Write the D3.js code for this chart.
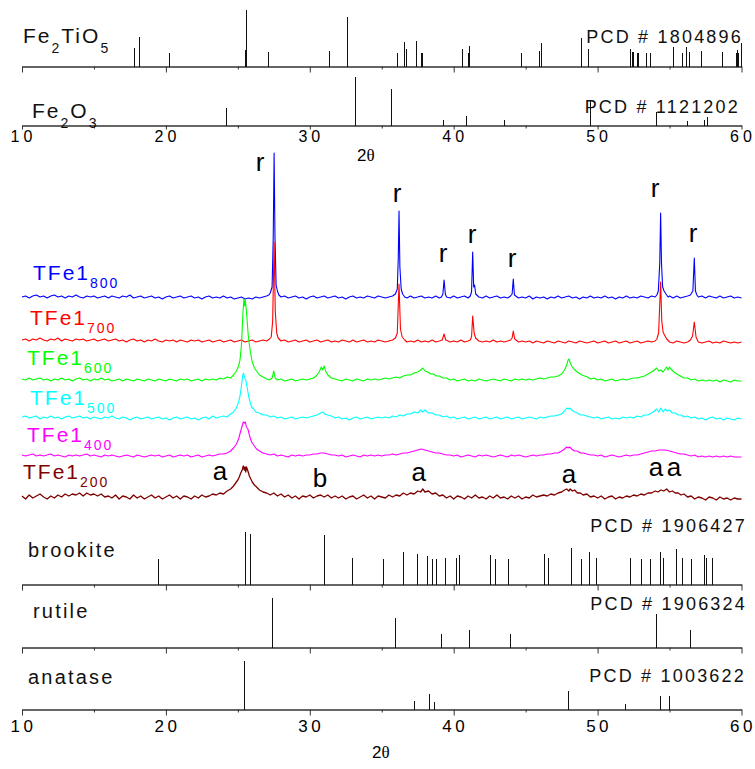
<!DOCTYPE html>
<html>
<head>
<meta charset="utf-8">
<script src="https://cdn.jsdelivr.net/npm/d3@7"></script>
<style>
body { margin: 0; background: #fff; }
text { font-family: "Liberation Sans", Arial, sans-serif; }
</style>
</head>
<body>
<svg id="chart" width="755" height="769"></svg>
<script>
// Reference patterns: [2theta, relative intensity %]
var fe2tio5 = [[17.78,33],[18.11,52],[20.21,24],[25.50,29],[25.57,100],[27.12,26],[31.33,28],[32.56,88],
  [36.04,24],[36.57,44],[36.71,31],[37.38,45],[37.73,24],[37.82,24],[40.60,31],[40.97,24],[41.09,37],
  [44.68,24],[45.93,28],[46.05,42],[48.83,51],[49.32,31],[52.25,31],[52.37,26],[52.48,26],[52.76,24],
  [52.83,24],[53.36,24],[53.64,24],[55.22,35],[55.89,24],[56.12,35],[56.35,26],[57.16,28],[58.62,26],
  [59.60,24],[59.71,29],[59.78,24],[59.94,42]];

var fe2o3 = [[24.18,36],[33.14,100],[35.62,75],[39.28,12],[40.86,19],[43.52,12],[49.47,52],[54.09,28],
  [56.18,10],[57.40,12],[57.58,17]];

var brookite = [[19.47,49],[25.50,100],[25.82,96],[30.97,95],[32.96,50],[35.09,48],[36.45,62],[37.45,58],
  [38.12,55],[38.51,49],[38.75,49],[39.37,51],[40.14,51],[40.35,57],[42.50,57],[42.89,48],[43.80,48],
  [46.28,59],[46.55,50],[48.17,70],[48.83,48],[49.38,61],[49.89,50],[52.23,51],[52.99,48],[53.66,48],
  [54.36,61],[54.57,50],[55.43,67],[55.89,51],[56.47,48],[57.40,57],[57.51,50],[57.93,50]];

var rutile = [[27.37,100],[35.92,59],[39.10,28],[41.04,36],[43.89,28],[54.06,68],[56.42,36]];

var anatase = [[25.40,100],[37.22,17],[38.26,32],[38.65,16],[47.97,39],[51.93,11],[54.34,27],[54.94,27]];

// Measured patterns: [2theta, intensity above own baseline]
var tfe800 = [[10,0],[10.25,1],[10.5,-1],[10.75,1],[11,2],[11.25,0],[11.5,1],[11.75,-1],[12,1],[12.25,2],
  [12.5,0],[12.75,1],[13,-1],[13.25,1],[13.5,0],[13.75,2],[14,0],[14.25,-1],[14.5,1],[14.75,0],[15,1],
  [15.25,-1],[15.5,0],[15.75,1],[16,-1],[16.25,1],[16.5,0],[16.75,-1],[17,1],[17.25,0],[17.5,2],[17.75,-1],
  [18,0],[18.25,1],[18.5,-1],[18.75,0],[19,1],[19.25,-1],[19.5,0],[19.75,-2],[20,0],[20.25,1],[20.5,-1],
  [20.75,0],[21,1],[21.25,-1],[21.5,0],[21.75,1],[22,-1],[22.25,0],[22.5,-2],[22.75,0],[23,1],[23.25,-1],
  [23.5,0],[23.75,-1],[24,1],[24.25,-1],[24.5,0],[24.75,-2],[25,-1],[25.25,0],[25.5,-2],[25.75,-1],[26,-2],
  [26.25,0],[26.5,-1],[26.75,0],[27,1],[27.15,2],[27.25,4],[27.38,10],[27.46,60],[27.52,144],[27.58,60],
  [27.66,12],[27.75,6],[27.85,2],[28,0],[28.25,1],[28.5,-1],[28.75,0],[29,1],[29.25,-1],[29.5,0],[29.75,-2],
  [30,0],[30.25,1],[30.5,-1],[30.75,0],[31,1],[31.25,-1],[31.5,0],[31.75,1],[32,-1],[32.25,0],[32.5,-2],
  [32.75,0],[33,1],[33.25,-1],[33.5,0],[33.75,-1],[34,1],[34.25,0],[34.5,-1],[34.75,1],[35,0],[35.25,-1],
  [35.5,0],[35.75,1],[35.95,3],[36.08,8],[36.15,40],[36.2,86],[36.26,30],[36.35,8],[36.45,3],[36.6,0],
  [36.75,-1],[37,1],[37.25,-1],[37.5,0],[37.75,1],[38,-1],[38.25,0],[38.5,-1],[38.75,1],[39,-1],[39.15,0],
  [39.25,3],[39.33,17],[39.42,3],[39.5,0],[39.75,-1],[40,1],[40.25,-1],[40.5,0],[40.75,1],[41,-1],
  [41.15,1],[41.24,5],[41.32,45],[41.39,10],[41.45,12],[41.53,3],[41.75,0],[42,-1],[42.25,1],[42.5,-1],
  [42.75,0],[43,1],[43.25,-1],[43.5,0],[43.75,-1],[43.95,1],[44.06,3],[44.14,18],[44.22,2],[44.5,-1],
  [44.75,0],[45,-1],[45.25,1],[45.5,-2],[45.75,0],[46,-1],[46.25,0],[46.5,-2],[46.75,0],[47,-1],[47.25,1],
  [47.5,-1],[47.75,0],[48,1],[48.25,-1],[48.5,0],[48.75,-2],[49,0],[49.25,-1],[49.5,1],[49.75,-1],[50,0],
  [50.25,-1],[50.5,1],[50.75,-1],[51,0],[51.25,-2],[51.5,0],[51.75,-1],[52,1],[52.25,-1],[52.5,0],
  [52.75,-1],[53,1],[53.25,0],[53.5,-1],[53.75,1],[54,0],[54.12,2],[54.22,6],[54.32,34],[54.38,84],
  [54.44,34],[54.52,10],[54.62,6],[54.75,3],[54.9,0],[55,1],[55.25,-1],[55.5,1],[55.75,-1],[56,0],
  [56.25,1],[56.45,2],[56.62,6],[56.72,39],[56.8,6],[56.9,2],[57,0],[57.25,1],[57.5,-1],[57.75,1],[58,0],
  [58.25,-1],[58.5,1],[58.75,-1],[59,0],[59.25,1],[59.5,-1],[59.75,0],[60,-1]];

var tfe700 = [[10,1],[10.25,2],[10.5,0],[10.75,2],[11,1],[11.25,3],[11.5,1],[11.75,0],[12,2],[12.25,1],
  [12.5,3],[12.75,0],[13,2],[13.25,1],[13.5,0],[13.75,2],[14,1],[14.25,2],[14.5,0],[14.75,1],[15,2],
  [15.25,0],[15.5,1],[15.75,2],[16,0],[16.25,1],[16.5,2],[16.75,0],[17,1],[17.25,-1],[17.5,1],[17.75,2],
  [18,0],[18.25,1],[18.5,-1],[18.75,1],[19,0],[19.25,2],[19.5,0],[19.75,-1],[20,1],[20.25,0],[20.5,1],
  [20.75,-1],[21,1],[21.25,0],[21.5,-1],[21.75,1],[22,0],[22.25,1],[22.5,-1],[22.75,0],[23,1],[23.25,-1],
  [23.5,0],[23.75,1],[24,-1],[24.25,0],[24.5,1],[24.75,-1],[25,0],[25.25,1],[25.5,-1],[25.75,0],[26,1],
  [26.25,-1],[26.5,0],[26.75,1],[27,0],[27.2,2],[27.32,4],[27.42,20],[27.52,99],[27.6,30],[27.7,8],
  [27.8,3],[28,0],[28.25,1],[28.5,-1],[28.75,0],[29,1],[29.25,-1],[29.5,0],[29.75,1],[30,-1],[30.25,0],
  [30.5,1],[30.75,-1],[31,0],[31.25,1],[31.5,-1],[31.75,0],[32,-1],[32.25,1],[32.5,0],[32.75,-1],[33,1],
  [33.25,-1],[33.5,0],[33.75,1],[34,-1],[34.25,0],[34.5,-1],[34.75,1],[35,0],[35.25,-1],[35.5,0],
  [35.75,1],[35.95,3],[36.08,8],[36.2,57],[36.3,12],[36.42,4],[36.6,1],[36.75,-1],[37,0],[37.25,-1],
  [37.5,1],[37.75,-1],[38,0],[38.25,-1],[38.5,1],[38.75,-1],[39,0],[39.2,1],[39.33,7],[39.45,1],
  [39.75,-1],[40,0],[40.25,-1],[40.5,1],[40.75,-1],[41,0],[41.15,1],[41.24,4],[41.32,25],[41.42,8],
  [41.52,3],[41.75,0],[42,-1],[42.25,0],[42.5,-1],[42.75,1],[43,-1],[43.25,0],[43.5,-1],[43.75,0],
  [43.95,1],[44.06,3],[44.14,10],[44.24,2],[44.5,-1],[44.75,0],[45,-1],[45.25,0],[45.5,-2],[45.75,0],
  [46,-1],[46.25,-2],[46.5,0],[46.75,-1],[47,-2],[47.25,0],[47.5,-1],[47.75,-2],[48,0],[48.25,-1],
  [48.5,-2],[48.75,0],[49,-1],[49.25,-2],[49.5,-1],[49.75,0],[50,-2],[50.25,-1],[50.5,0],[50.75,-2],
  [51,-1],[51.25,0],[51.5,-2],[51.75,-1],[52,0],[52.25,-2],[52.5,-1],[52.75,0],[53,-2],[53.25,-1],
  [53.5,0],[53.75,-1],[54,0],[54.12,2],[54.24,8],[54.38,59],[54.46,20],[54.55,9],[54.65,6],[54.8,2],
  [55,-1],[55.25,-2],[55.5,0],[55.75,-1],[56,-2],[56.25,-1],[56.45,1],[56.6,5],[56.72,19],[56.84,4],
  [57,-1],[57.25,-2],[57.5,-1],[57.75,0],[58,-2],[58.25,-1],[58.5,-2],[58.75,0],[59,-1],[59.25,-2],
  [59.5,-1],[59.75,-2],[60,-1]];

var tfe600 = [[10,1],[10.25,0],[10.5,2],[10.75,0],[11,1],[11.25,2],[11.5,0],[11.75,1],[12,-1],[12.25,1],
  [12.5,0],[12.75,2],[13,0],[13.25,1],[13.5,-1],[13.75,1],[14,2],[14.25,0],[14.5,1],[14.75,-1],[15,1],
  [15.25,0],[15.5,2],[15.75,0],[16,1],[16.25,-1],[16.5,0],[16.75,1],[17,-1],[17.25,1],[17.5,0],[17.75,-1],
  [18,1],[18.25,0],[18.5,-1],[18.75,1],[19,0],[19.25,-1],[19.5,1],[19.75,0],[20,-1],[20.25,1],[20.5,0],
  [20.75,-1],[21,1],[21.25,0],[21.5,1],[21.75,-1],[22,0],[22.25,1],[22.5,-1],[22.75,1],[23,0],[23.25,1],
  [23.5,0],[23.75,2],[24,1],[24.25,3],[24.5,2],[24.7,5],[24.9,9],[25.05,14],[25.15,20],[25.25,35],
  [25.35,66],[25.42,81],[25.47,74],[25.52,80],[25.6,68],[25.72,45],[25.85,30],[26.0,18],[26.15,12],
  [26.3,9],[26.5,5],[26.75,3],[27,1],[27.2,0],[27.38,2],[27.5,9],[27.6,2],[27.75,0],[28,1],[28.25,-1],
  [28.5,0],[28.75,1],[29,-1],[29.25,0],[29.5,1],[29.75,0],[30,1],[30.25,2],[30.45,4],[30.65,8],[30.8,13],
  [30.9,10],[31.0,14],[31.1,9],[31.25,5],[31.5,2],[31.75,1],[32,0],[32.25,-1],[32.5,1],[32.75,0],[33,-1],
  [33.25,1],[33.5,0],[33.75,-1],[34,1],[34.25,0],[34.5,1],[34.75,0],[35,1],[35.25,2],[35.5,1],[35.75,2],
  [36,3],[36.25,2],[36.5,4],[36.75,5],[37,5],[37.25,7],[37.5,8],[37.7,10],[37.85,12],[38,9],[38.2,8],
  [38.4,6],[38.6,6],[38.8,4],[39,4],[39.25,2],[39.5,2],[39.75,0],[40,1],[40.25,-1],[40.5,0],[40.75,1],
  [41,-1],[41.25,0],[41.5,-1],[41.75,1],[42,0],[42.25,-1],[42.5,0],[42.75,1],[43,0],[43.25,-1],[43.5,1],
  [43.75,0],[44,-1],[44.25,1],[44.5,0],[44.75,1],[45,0],[45.25,1],[45.5,0],[45.75,1],[46,2],[46.25,1],
  [46.5,2],[46.75,3],[47,3],[47.25,4],[47.5,6],[47.7,10],[47.85,15],[47.95,20],[48.02,21],[48.1,17],
  [48.2,14],[48.35,11],[48.5,9],[48.7,7],[48.9,5],[49.1,4],[49.3,3],[49.5,1],[49.75,2],[50,0],[50.25,1],
  [50.5,-1],[50.75,0],[51,1],[51.25,-1],[51.5,0],[51.75,1],[52,0],[52.25,1],[52.5,2],[52.75,2],[53,3],
  [53.25,4],[53.5,6],[53.75,8],[53.95,10],[54.1,12],[54.25,9],[54.4,10],[54.55,8],[54.7,11],[54.8,13],
  [54.9,10],[55.0,13],[55.1,11],[55.3,8],[55.5,6],[55.75,4],[56,2],[56.25,2],[56.5,0],[56.75,1],[57,-1],
  [57.25,0],[57.5,-1],[57.75,0],[58,-1],[58.25,0],[58.5,-2],[58.75,0],[59,-1],[59.25,-2],[59.5,0],
  [59.75,-1],[60,-1]];

var tfe500 = [[10,1],[10.25,2],[10.5,0],[10.75,1],[11,2],[11.25,-1],[11.5,1],[11.75,0],[12,2],[12.25,0],
  [12.5,1],[12.75,-1],[13,1],[13.25,2],[13.5,0],[13.75,1],[14,2],[14.25,0],[14.5,1],[14.75,-1],[15,1],
  [15.25,0],[15.5,-1],[15.75,1],[16,0],[16.25,2],[16.5,0],[16.75,-1],[17,1],[17.25,0],[17.5,-2],[17.75,0],
  [18,1],[18.25,-1],[18.5,0],[18.75,1],[19,-1],[19.25,0],[19.5,1],[19.75,-1],[20,0],[20.25,-2],[20.5,0],
  [20.75,1],[21,-1],[21.25,0],[21.5,1],[21.75,-1],[22,0],[22.25,-2],[22.5,0],[22.75,1],[23,-1],[23.25,2],
  [23.5,0],[23.75,1],[24,2],[24.25,1],[24.5,4],[24.7,6],[24.9,10],[25.05,16],[25.15,22],[25.25,32],
  [25.33,42],[25.4,45],[25.47,40],[25.55,38],[25.65,30],[25.75,22],[25.85,16],[25.95,11],[26.1,9],
  [26.25,6],[26.5,5],[26.75,3],[27,3],[27.25,1],[27.5,2],[27.75,0],[28,1],[28.25,-1],[28.5,0],[28.75,1],
  [29,-1],[29.25,0],[29.5,1],[29.75,0],[30,1],[30.25,2],[30.5,3],[30.75,5],[30.9,6],[31.05,4],[31.25,3],
  [31.5,2],[31.75,0],[32,1],[32.25,-1],[32.5,0],[32.75,-2],[33,0],[33.25,1],[33.5,-1],[33.75,0],[34,1],
  [34.25,-1],[34.5,0],[34.75,1],[35,0],[35.25,1],[35.5,0],[35.75,2],[36,1],[36.25,3],[36.5,2],[36.75,4],
  [37,4],[37.25,6],[37.5,5],[37.7,8],[37.85,6],[38,8],[38.25,5],[38.5,5],[38.75,3],[39,3],[39.25,1],
  [39.5,2],[39.75,0],[40,1],[40.25,-1],[40.5,0],[40.75,1],[41,-1],[41.25,0],[41.5,1],[41.75,-1],[42,0],
  [42.25,1],[42.5,-1],[42.75,0],[43,1],[43.25,-1],[43.5,0],[43.75,1],[44,-1],[44.25,0],[44.5,1],
  [44.75,-1],[45,0],[45.25,1],[45.5,0],[45.75,-1],[46,1],[46.25,0],[46.5,1],[46.75,2],[47,2],[47.25,3],
  [47.5,4],[47.7,7],[47.85,10],[47.95,9],[48.05,10],[48.2,8],[48.4,6],[48.6,5],[48.8,3],[49,3],[49.25,2],
  [49.5,1],[49.75,0],[50,1],[50.25,-1],[50.5,0],[50.75,1],[51,-1],[51.25,0],[51.5,-1],[51.75,1],[52,0],
  [52.25,1],[52.5,0],[52.75,2],[53,1],[53.25,3],[53.5,3],[53.75,5],[53.95,7],[54.1,9],[54.25,6],
  [54.4,10],[54.55,6],[54.7,9],[54.85,7],[55,8],[55.2,5],[55.4,5],[55.6,3],[55.8,3],[56,1],[56.25,2],
  [56.5,0],[56.75,1],[57,-1],[57.25,0],[57.5,-2],[57.75,0],[58,1],[58.25,-1],[58.5,0],[58.75,-2],[59,0],
  [59.25,-1],[59.5,-2],[59.75,0],[60,-1]];

var tfe400 = [[10,1],[10.25,0],[10.5,1],[10.75,2],[11,0],[11.25,1],[11.5,0],[11.75,1],[12,2],[12.25,0],
  [12.5,1],[12.75,0],[13,-1],[13.25,1],[13.5,0],[13.75,1],[14,0],[14.25,1],[14.5,2],[14.75,0],[15,1],
  [15.25,0],[15.5,-1],[15.75,1],[16,0],[16.25,1],[16.5,0],[16.75,-1],[17,0],[17.25,1],[17.5,0],[17.75,-1],
  [18,1],[18.25,0],[18.5,-1],[18.75,0],[19,1],[19.25,0],[19.5,1],[19.75,-1],[20,0],[20.25,1],[20.5,-1],
  [20.75,0],[21,1],[21.25,0],[21.5,1],[21.75,-1],[22,0],[22.25,1],[22.5,-1],[22.75,0],[23,1],[23.25,0],
  [23.5,1],[23.75,2],[24,2],[24.25,3],[24.5,5],[24.7,8],[24.9,12],[25.05,17],[25.2,25],[25.3,30],
  [25.38,34],[25.45,33],[25.52,34],[25.6,29],[25.7,27],[25.8,21],[25.9,16],[26.0,13],[26.15,10],[26.3,7],
  [26.5,5],[26.75,3],[27,2],[27.25,1],[27.5,2],[27.75,0],[28,1],[28.25,0],[28.5,-1],[28.75,1],[29,0],
  [29.25,1],[29.5,0],[29.75,1],[30,1],[30.25,2],[30.5,2],[30.75,3],[31,3],[31.25,2],[31.5,1],[31.75,1],
  [32,0],[32.25,1],[32.5,-1],[32.75,0],[33,1],[33.25,0],[33.5,-1],[33.75,1],[34,0],[34.25,1],[34.5,0],
  [34.75,1],[35,0],[35.25,1],[35.5,1],[35.75,2],[36,1],[36.25,2],[36.5,3],[36.75,3],[37,4],[37.25,5],
  [37.5,6],[37.75,7],[38,6],[38.25,5],[38.5,4],[38.75,3],[39,3],[39.25,2],[39.5,1],[39.75,1],[40,0],
  [40.25,1],[40.5,-1],[40.75,0],[41,1],[41.25,0],[41.5,-1],[41.75,1],[42,0],[42.25,1],[42.5,0],
  [42.75,-1],[43,0],[43.25,1],[43.5,0],[43.75,-1],[44,1],[44.25,0],[44.5,1],[44.75,0],[45,-1],[45.25,0],
  [45.5,1],[45.75,0],[46,1],[46.25,1],[46.5,2],[46.75,2],[47,3],[47.25,3],[47.5,5],[47.7,7],[47.85,9],
  [47.95,8],[48.05,9],[48.2,7],[48.4,5],[48.6,5],[48.8,3],[49,3],[49.25,2],[49.5,1],[49.75,1],[50,0],
  [50.25,1],[50.5,-1],[50.75,0],[51,1],[51.25,0],[51.5,-1],[51.75,0],[52,1],[52.25,0],[52.5,1],[52.75,1],
  [53,2],[53.25,3],[53.5,4],[53.75,5],[54,5],[54.25,6],[54.5,6],[54.75,6],[55,5],[55.25,4],[55.5,3],
  [55.75,2],[56,2],[56.25,1],[56.5,0],[56.75,1],[57,-1],[57.25,0],[57.5,-1],[57.75,0],[58,-1],[58.25,0],
  [58.5,-1],[58.75,0],[59,-1],[59.25,0],[59.5,-1],[59.75,-1],[60,-1]];

var tfe200 = [[10,1],[10.25,-2],[10.5,2],[10.75,-1],[11,1],[11.25,3],[11.5,0],[11.75,-2],[12,1],[12.25,-1],
  [12.5,2],[12.75,0],[13,3],[13.25,1],[13.5,3],[13.75,2],[14,4],[14.25,1],[14.5,4],[14.75,2],[15,3],
  [15.25,1],[15.5,3],[15.75,0],[16,1],[16.25,-1],[16.5,2],[16.75,-2],[17,1],[17.25,0],[17.5,-2],[17.75,2],
  [18,-1],[18.25,1],[18.5,-2],[18.75,0],[19,2],[19.25,-1],[19.5,1],[19.75,-2],[20,0],[20.25,2],[20.5,-1],
  [20.75,1],[21,-2],[21.25,1],[21.5,0],[21.75,-2],[22,1],[22.25,-1],[22.5,2],[22.75,0],[23,1],[23.25,3],
  [23.5,2],[23.75,4],[24,3],[24.25,6],[24.5,8],[24.7,11],[24.85,14],[25.0,17],[25.1,20],[25.2,24],
  [25.3,27],[25.38,31],[25.45,27],[25.5,30],[25.55,25],[25.6,30],[25.7,26],[25.8,21],[25.9,18],[26.0,15],
  [26.15,12],[26.3,10],[26.5,7],[26.75,5],[27,4],[27.25,2],[27.5,4],[27.75,1],[28,3],[28.25,0],[28.5,2],
  [28.75,-1],[29,1],[29.25,-2],[29.5,1],[29.75,0],[30,2],[30.25,-1],[30.5,1],[30.75,2],[31,0],[31.25,2],
  [31.5,-1],[31.75,1],[32,-1],[32.25,1],[32.5,-2],[32.75,0],[33,1],[33.25,-2],[33.5,0],[33.75,2],[34,-1],
  [34.25,1],[34.5,-2],[34.75,1],[35,0],[35.25,-1],[35.5,2],[35.75,0],[36,2],[36.25,1],[36.5,4],[36.75,2],
  [37,4],[37.25,3],[37.5,6],[37.7,5],[37.85,8],[38,5],[38.25,6],[38.5,3],[38.75,4],[39,1],[39.25,2],
  [39.5,-1],[39.75,1],[40,-2],[40.25,1],[40.5,0],[40.75,-2],[41,1],[41.25,-1],[41.5,2],[41.75,-1],[42,0],
  [42.25,-2],[42.5,1],[42.75,-1],[43,2],[43.25,-1],[43.5,0],[43.75,-2],[44,1],[44.25,-1],[44.5,1],
  [44.75,-2],[45,0],[45.25,-1],[45.5,2],[45.75,0],[46,1],[46.25,2],[46.5,1],[46.75,3],[47,2],[47.25,4],
  [47.5,5],[47.7,7],[47.85,8],[48,6],[48.1,8],[48.25,6],[48.4,7],[48.6,4],[48.8,4],[49,2],[49.25,3],
  [49.5,0],[49.75,1],[50,-1],[50.25,1],[50.5,-2],[50.75,0],[51,1],[51.25,-2],[51.5,0],[51.75,-1],[52,1],
  [52.25,0],[52.5,2],[52.75,1],[53,3],[53.25,2],[53.5,4],[53.75,4],[54,6],[54.2,5],[54.4,7],[54.6,6],
  [54.8,8],[55,5],[55.2,6],[55.4,4],[55.6,4],[55.8,2],[56,3],[56.25,0],[56.5,1],[56.75,-2],[57,0],
  [57.25,-1],[57.5,-3],[57.75,0],[58,-1],[58.25,-3],[58.5,0],[58.75,-2],[59,-1],[59.25,-3],[59.5,-1],
  [59.75,-2],[60,-2]];

// Peak assignments: [2theta, level in the stacked intensity scale]
var rutileMarks = [[26.54,339],[36.06,308],[39.26,248],[41.27,267],[44.05,243],[53.99,313],[56.63,268]];
var phaseMarks = [["a",23.76,30],["b",30.71,23],["a",37.57,29],["a",48.01,27],["a",54.06,34],["a",55.31,34]];

var majorTicks = [10, 20, 30, 40, 50, 60];
var minorTicks = [15, 25, 35, 45, 55];

var svg = d3.select("#chart");
var x = d3.scaleLinear().domain([10, 60]).range([22, 741.5]);

///////////////////////////////////////////////////////////////////////////////
// Stick panels
///////////////////////////////////////////////////////////////////////////////

var panels = [
  {sticks: fe2tio5, base: 66.5, h: 56.5, label: [["Fe",0],["2",1],["TiO",0],["5",1]], lx: 23, ly: 43,
   pcd: "PCD # 1804896", px: 743, py: 43, tick: 6},
  {sticks: fe2o3, base: 125.5, h: 48.5, label: [["Fe",0],["2",1],["O",0],["3",1]], lx: 32, ly: 118,
   pcd: "PCD # 1121202", px: 740, py: 113, tick: 4, tickFont: 16, tickSpace: 4, tickY: 16},
  {sticks: brookite, base: 584.5, h: 52.5, label: [["brookite",0]], lx: 28, ly: 557,
   pcd: "PCD # 1906427", px: 747, py: 532, small: true, tick: 6},
  {sticks: rutile, base: 647.5, h: 50, label: [["rutile",0]], lx: 33, ly: 618,
   pcd: "PCD # 1906324", px: 747, py: 610, small: true, tick: 6},
  {sticks: anatase, base: 709.5, h: 48.5, label: [["anatase",0]], lx: 28, ly: 684,
   pcd: "PCD # 1003622", px: 746, py: 682, small: true, tick: 6, tickFont: 17, tickSpace: 3.5, tickY: 22}
];

function richText(parent, parts, tx, ty, size, subSize, shift, color, spacing) {
  var t = parent.append("text")
    .attr("x", tx).attr("y", ty)
    .attr("fill", color)
    .style("font-size", size + "px")
    .style("letter-spacing", spacing + "px");
  var down = false;
  parts.forEach(function (p) {
    var ts = t.append("tspan").text(p[0]);
    if (p[1]) {
      ts.style("font-size", subSize + "px").attr("dy", shift);
      down = true;
    } else if (down) {
      ts.attr("dy", -shift);
      down = false;
    }
  });
  return t;
}

panels.forEach(function (p) {
  var g = svg.append("g");
  var y = d3.scaleLinear().domain([0, 100]).range([p.base, p.base - p.h]);

  var major = d3.axisBottom(x).tickValues(majorTicks).tickSize(p.tick).tickSizeOuter(0)
    .tickFormat(p.tickFont ? d3.format("d") : "");
  var minor = d3.axisBottom(x).tickValues(minorTicks).tickSize(3).tickSizeOuter(0).tickFormat("");

  var ga = g.append("g").attr("transform", "translate(0," + p.base + ")").call(major);
  g.append("g").attr("transform", "translate(0," + p.base + ")").call(minor);
  g.selectAll(".domain, .tick line").attr("stroke", "#333");
  if (p.tickFont) {
    ga.selectAll("text")
      .attr("dy", null)
      .attr("y", p.tickY)
      .attr("dx", 1)
      .attr("fill", "#000")
      .style("font-family", "'Liberation Sans', Arial, sans-serif")
      .style("font-size", p.tickFont + "px")
      .style("letter-spacing", p.tickSpace + "px");
  }

  g.selectAll("line.stick")
    .data(p.sticks)
    .enter().append("line")
    .attr("class", "stick")
    .attr("x1", function (d) { return Math.round(x(d[0])) + 0.5; })
    .attr("x2", function (d) { return Math.round(x(d[0])) + 0.5; })
    .attr("y1", p.base)
    .attr("y2", function (d) { return y(d[1]); })
    .attr("stroke", "#111")
    .attr("stroke-width", 1)
    .attr("shape-rendering", "crispEdges");

  if (p.small)
    richText(g, p.label, p.lx, p.ly, 20, 14, 0, "#111", 2.2);
  else
    richText(g, p.label, p.lx, p.ly, 21, 14, 10, "#111", 2);

  g.append("text")
    .attr("x", p.px).attr("y", p.py)
    .attr("text-anchor", "end")
    .attr("fill", "#111")
    .style("font-size", "18px")
    .style("letter-spacing", "2.2px")
    .text(p.pcd);
});

// 2theta axis titles
function thetaTitle(tx, ty) {
  var t = svg.append("text").attr("x", tx).attr("y", ty).style("font-size", "17px").attr("fill", "#000");
  t.append("tspan").text("2");
  t.append("tspan").style("font-family", "'Liberation Serif', 'Times New Roman', serif").text("\u03b8");
}
thetaTitle(357, 161);
thetaTitle(372, 758);

///////////////////////////////////////////////////////////////////////////////
// Stacked measured patterns
///////////////////////////////////////////////////////////////////////////////

var ym = d3.scaleLinear().domain([0, 360]).range([510, 150]);

var series = [
  {data: tfe800, sub: "800", color: "#0000ff", offset: 213, lx: 33, ly: 280},
  {data: tfe700, sub: "700", color: "#ff0000", offset: 169, lx: 30, ly: 325},
  {data: tfe600, sub: "600", color: "#00ff00", offset: 130, lx: 27, ly: 365},
  {data: tfe500, sub: "500", color: "#00ffff", offset: 92, lx: 30, ly: 405},
  {data: tfe400, sub: "400", color: "#ff00ff", offset: 54, lx: 27, ly: 442},
  {data: tfe200, sub: "200", color: "#800000", offset: 13, lx: 23, ly: 479}
];

var gs = svg.append("g");
series.forEach(function (s) {
  var line = d3.line()
    .x(function (d) { return x(d[0]); })
    .y(function (d) { return ym(d[1] + s.offset); });
  gs.append("path")
    .datum(s.data)
    .attr("d", line)
    .attr("fill", "none")
    .attr("stroke", s.color)
    .attr("stroke-width", s.sub === "200" ? 1.3 : 1.1)
    .attr("stroke-linejoin", "round");

  richText(gs, [["TFe1",0],[s.sub,1]], s.lx, s.ly, 21, 14, 8, s.color, 2);
});

svg.selectAll("text.rmark")
  .data(rutileMarks)
  .enter().append("text")
  .attr("class", "rmark")
  .attr("x", function (d) { return x(d[0]); })
  .attr("y", function (d) { return ym(d[1]); })
  .attr("text-anchor", "middle")
  .style("font-size", "26px")
  .attr("fill", "#000")
  .text("r");

svg.selectAll("text.pmark")
  .data(phaseMarks)
  .enter().append("text")
  .attr("class", "pmark")
  .attr("x", function (d) { return x(d[1]); })
  .attr("y", function (d) { return ym(d[2]); })
  .attr("text-anchor", "middle")
  .style("font-size", "26px")
  .attr("fill", "#000")
  .text(function (d) { return d[0]; });
</script>
</body>
</html>
